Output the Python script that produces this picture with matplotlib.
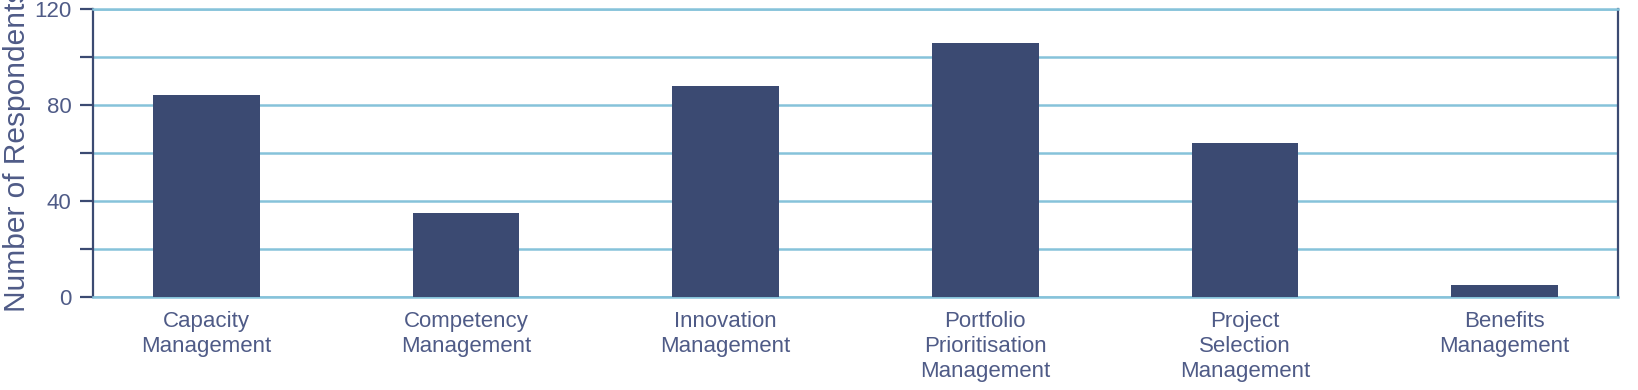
import matplotlib
matplotlib.use("Agg")
import matplotlib.pyplot as plt
import numpy as np

# Data
categories = ["Capacity\nManagement", "Competency\nManagement", "Innovation\nManagement",
              "Portfolio\nPrioritisation\nManagement", "Project\nSelection\nManagement",
              "Benefits\nManagement"]
respondents = [84, 35, 88, 106, 64, 5]
major_ticks = [0, 40, 80, 120]
minor_ticks = [20, 60, 100]

bar_color = "#3b4a72"
grid_color = "#86c3da"
text_color = "#4f5b87"
spine_color = "#3b4a72"

plt.rcParams['font.family'] = ['Liberation Sans', 'DejaVu Sans']

fig = plt.figure(figsize=(16.38, 3.9), dpi=100)
ax = fig.add_axes([0.0568, 0.2385, 0.9310, 0.7385])

x = np.arange(len(categories))
ax.bar(x, respondents, width=0.41, color=bar_color, zorder=3)

ax.set_xlim(-0.437, len(categories) - 1 + 0.437)
ax.set_ylim(0, 120)

ax.set_yticks(major_ticks)
ax.set_yticks(minor_ticks, minor=True)
ax.set_xticks(x)
ax.set_xticklabels(categories, fontsize=16, color=text_color, linespacing=1.25, va="top")
ax.tick_params(axis="x", length=0, pad=10)
ax.tick_params(axis="y", which="both", length=9.5, width=1.6, color=spine_color,
               labelsize=16, labelcolor=text_color, pad=6)

ax.grid(axis="y", which="both", color=grid_color, linewidth=1.8, zorder=0)
ax.set_axisbelow(True)

for side in ["top", "bottom"]:
    ax.spines[side].set_color(grid_color)
    ax.spines[side].set_linewidth(1.8)
for side in ["left", "right"]:
    ax.spines[side].set_color(spine_color)
    ax.spines[side].set_linewidth(1.6)

ax.set_ylabel("Number of Respondents", fontsize=21.5, color=text_color)
ax.yaxis.set_label_coords(-0.041, 0.51)

fig.savefig("out.png", dpi=100, facecolor="white")
